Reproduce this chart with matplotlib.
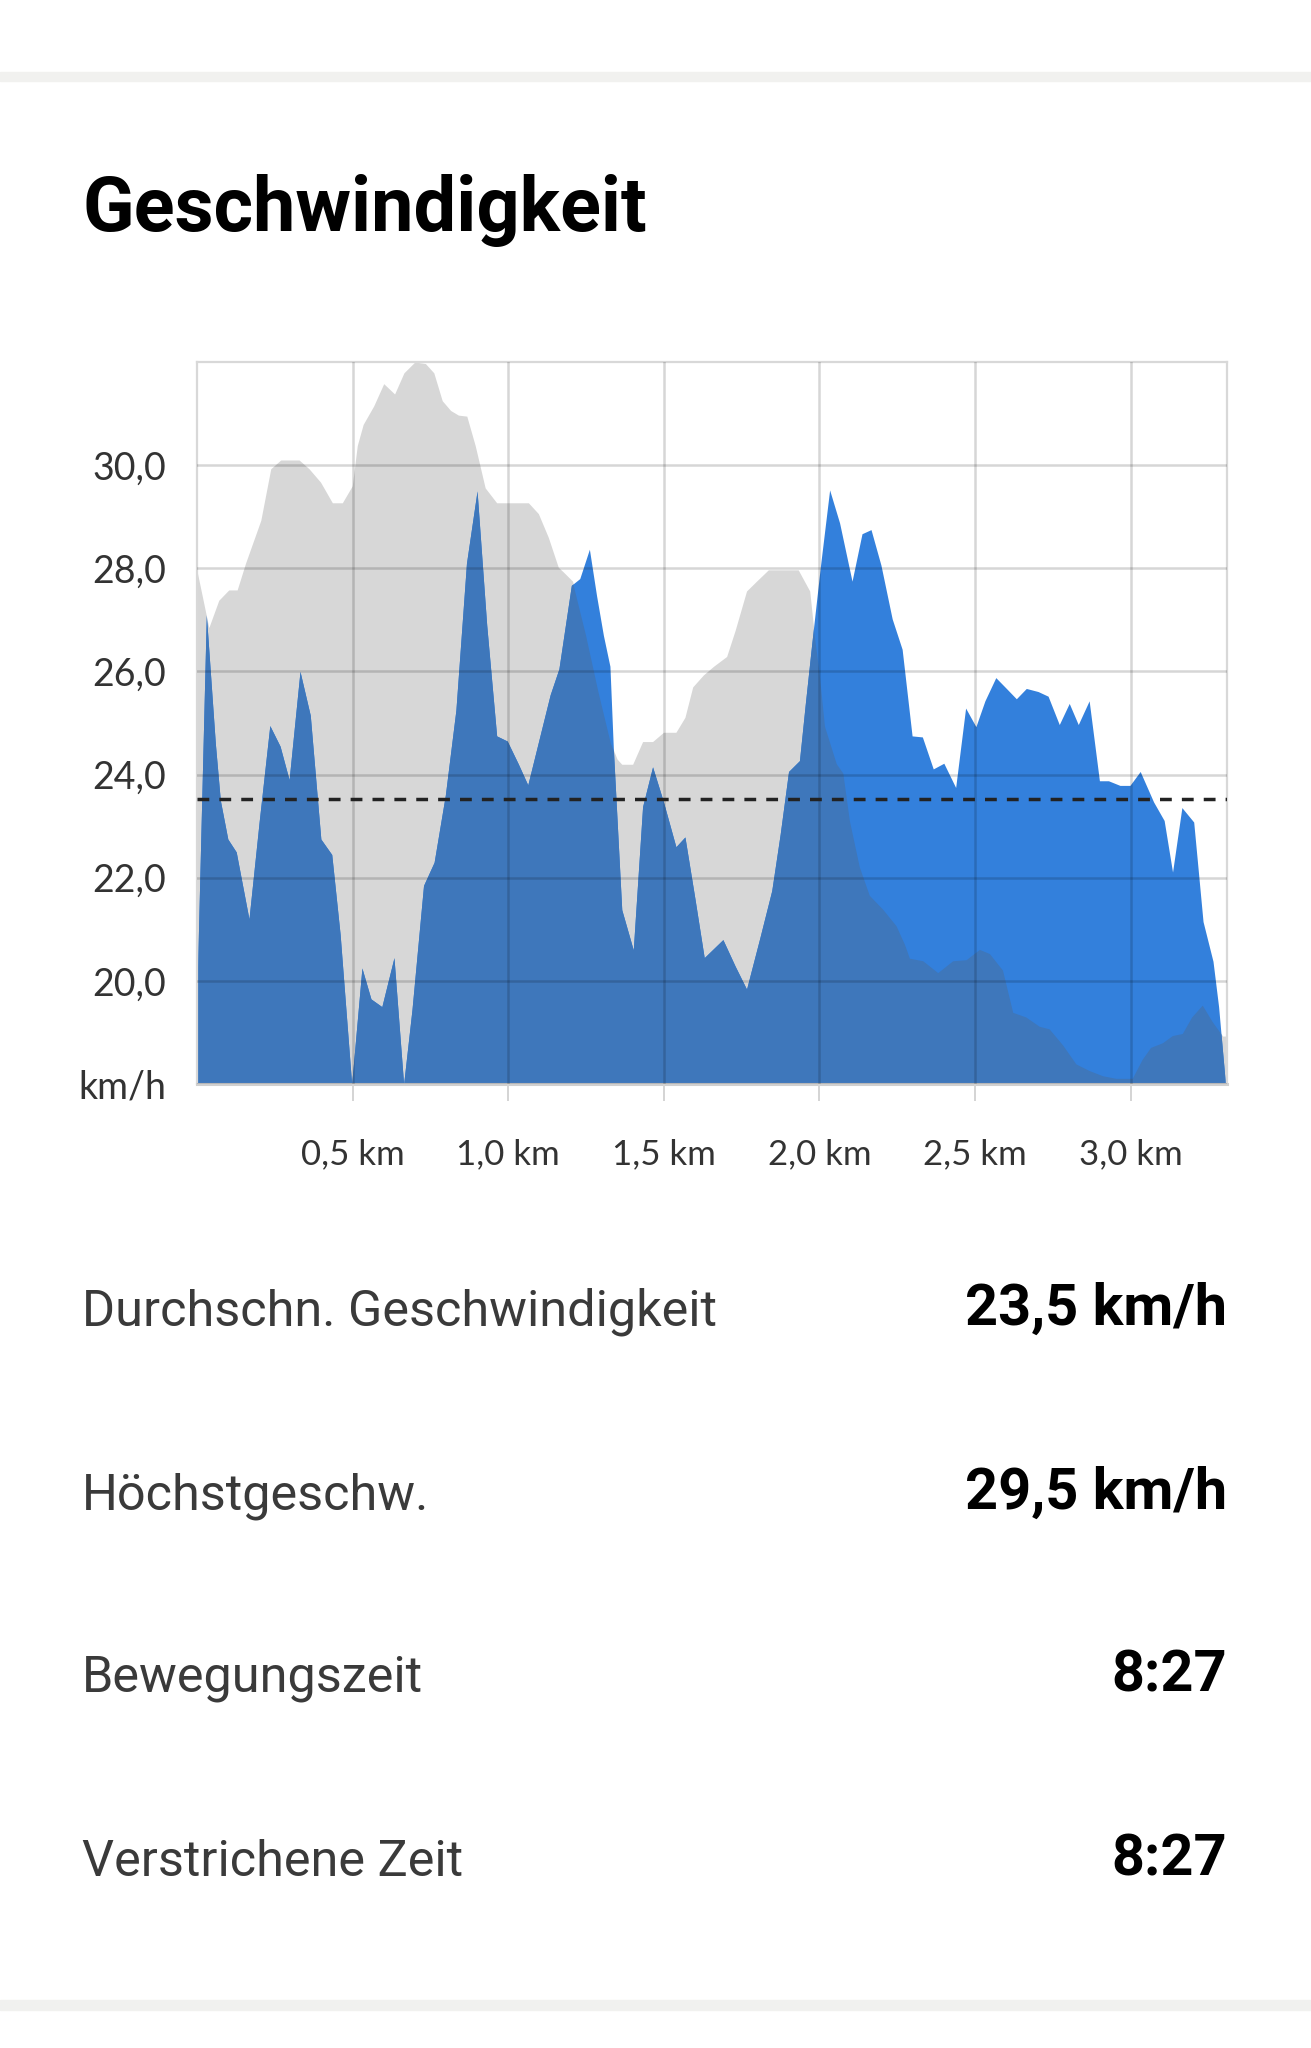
import numpy as np
import matplotlib
matplotlib.use("Agg")
import matplotlib.pyplot as plt
from matplotlib.patches import Rectangle

# --------------------------
# Data
# --------------------------
# speed profile (km, km/h)
speed_km = [0.000, 0.030, 0.059, 0.075, 0.099, 0.126, 0.167, 0.200, 0.234, 0.267,
            0.296, 0.331, 0.364, 0.398, 0.433, 0.460, 0.497, 0.530, 0.559, 0.594,
            0.633, 0.664, 0.691, 0.728, 0.762, 0.798, 0.832, 0.866, 0.900, 0.931,
            0.963, 0.997, 1.033, 1.063, 1.100, 1.135, 1.163, 1.203, 1.230, 1.261,
            1.284, 1.306, 1.327, 1.338, 1.365, 1.402, 1.432, 1.464, 1.499, 1.539,
            1.568, 1.600, 1.630, 1.690, 1.729, 1.766, 1.809, 1.847, 1.874, 1.901,
            1.936, 1.955, 1.976, 2.003, 2.033, 2.065, 2.105, 2.137, 2.166, 2.198,
            2.234, 2.266, 2.298, 2.331, 2.366, 2.400, 2.438, 2.470, 2.503, 2.532,
            2.567, 2.601, 2.633, 2.665, 2.703, 2.735, 2.771, 2.803, 2.832, 2.867,
            2.900, 2.929, 2.966, 2.998, 3.031, 3.074, 3.108, 3.135, 3.165, 3.203,
            3.233, 3.265, 3.283, 3.305]
speed = [19.8, 27.1, 24.6, 23.5, 22.75, 22.5, 21.2, 23.1, 24.95, 24.55,
         23.9, 26.0, 25.15, 22.75, 22.45, 20.9, 18.0, 20.25, 19.65, 19.5,
         20.45, 18.0, 19.45, 21.85, 22.3, 23.6, 25.25, 28.1, 29.5, 26.9,
         24.75, 24.65, 24.2, 23.8, 24.7, 25.55, 26.05, 27.67, 27.8, 28.37,
         27.47, 26.7, 26.1, 24.5, 21.38, 20.6, 23.38, 24.15, 23.47, 22.6,
         22.79, 21.6, 20.45, 20.8, 20.29, 19.84, 20.84, 21.75, 22.84, 24.06,
         24.27, 25.38, 26.56, 28.02, 29.52, 28.88, 27.75, 28.67, 28.75, 28.06,
         27.02, 26.43, 24.75, 24.73, 24.11, 24.22, 23.75, 25.29, 24.93, 25.43,
         25.88, 25.67, 25.47, 25.67, 25.61, 25.52, 24.97, 25.38, 24.97, 25.43,
         23.88, 23.88, 23.79, 23.79, 24.06, 23.47, 23.11, 22.11, 23.36, 23.08,
         21.15, 20.38, 19.5, 18.0]

# grey background profile, in the units of the speed axis
profile_km = [0.000, 0.038, 0.070, 0.102, 0.129, 0.156, 0.205, 0.237, 0.269, 0.328,
              0.360, 0.397, 0.435, 0.467, 0.499, 0.515, 0.534, 0.568, 0.600, 0.635,
              0.665, 0.700, 0.734, 0.761, 0.788, 0.815, 0.840, 0.867, 0.894, 0.926,
              0.963, 1.000, 1.065, 1.097, 1.129, 1.161, 1.177, 1.207, 1.250, 1.290,
              1.330, 1.350, 1.365, 1.400, 1.432, 1.464, 1.499, 1.539, 1.568, 1.593,
              1.627, 1.660, 1.702, 1.729, 1.766, 1.798, 1.836, 1.932, 1.969, 1.980,
              2.000, 2.018, 2.056, 2.077, 2.098, 2.130, 2.162, 2.205, 2.248, 2.275,
              2.291, 2.334, 2.382, 2.430, 2.473, 2.516, 2.548, 2.590, 2.623, 2.665,
              2.708, 2.740, 2.783, 2.826, 2.869, 2.912, 2.955, 3.007, 3.039, 3.066,
              3.104, 3.136, 3.168, 3.198, 3.232, 3.264, 3.296, 3.310]
profile = [27.95, 26.85, 27.38, 27.58, 27.58, 28.1, 28.93, 29.93, 30.1, 30.1,
           29.93, 29.67, 29.27, 29.27, 29.6, 30.38, 30.79, 31.15, 31.58, 31.38,
           31.79, 32.0, 31.97, 31.79, 31.25, 31.06, 30.97, 30.95, 30.38, 29.56,
           29.27, 29.27, 29.27, 29.06, 28.6, 28.02, 27.93, 27.75, 26.7, 25.6,
           24.6, 24.3, 24.2, 24.2, 24.64, 24.64, 24.82, 24.82, 25.11, 25.7,
           25.93, 26.1, 26.29, 26.79, 27.56, 27.75, 27.97, 27.97, 27.56, 26.93,
           26.0, 24.93, 24.2, 24.02, 23.1, 22.2, 21.65, 21.38, 21.06, 20.7,
           20.43, 20.38, 20.15, 20.38, 20.4, 20.6, 20.52, 20.2, 19.38, 19.29,
           19.11, 19.06, 18.75, 18.38, 18.25, 18.15, 18.1, 18.1, 18.47, 18.7,
           18.79, 18.93, 18.97, 19.29, 19.52, 19.2, 18.93, 18.93]

avg_line = 23.53
y_ticks = [18, 20, 22, 24, 26, 28, 30]
y_labels = ["km/h", "20,0", "22,0", "24,0", "26,0", "28,0", "30,0"]
x_ticks = [0.5, 1.0, 1.5, 2.0, 2.5, 3.0]
x_labels = ["0,5 km", "1,0 km", "1,5 km", "2,0 km", "2,5 km", "3,0 km"]

stat_names = ["Durchschn. Geschwindigkeit", "Höchstgeschw.", "Bewegungszeit", "Verstrichene Zeit"]
stat_values = ["23,5 km/h", "29,5 km/h", "8:27", "8:27"]

# --------------------------
# Figure layout (pixel based)
# --------------------------
W, H = 1311, 2048
fig = plt.figure(figsize=(W / 100, H / 100), dpi=100, facecolor="white")

def fx(px):
    return px / W

def fy(py):
    return 1 - py / H

# light grey separator bands
fig.patches.append(Rectangle((0, fy(81)), 1, 9 / H, transform=fig.transFigure,
                             color="#f1f1ef", zorder=0))
fig.patches.append(Rectangle((0, fy(2010)), 1, 10 / H, transform=fig.transFigure,
                             color="#f1f1ef", zorder=0))

fig.text(fx(82), fy(231), "Geschwindigkeit", fontsize=54.5, fontweight="bold",
         family="Roboto", color="black", va="baseline", ha="left")

ax_l, ax_r, ax_t, ax_b = 197, 1227, 362, 1084
ax = fig.add_axes([fx(ax_l), fy(ax_b), (ax_r - ax_l) / W, (ax_b - ax_t) / H])

grey = ax.fill_between(profile_km, 18, profile, color="#d7d7d7", lw=0, zorder=1)
ax.fill_between(speed_km, 18, speed, color="#3380dc", lw=0, zorder=1.2)
dark = ax.fill_between(speed_km, 18, speed, color="#3e77bb", lw=0, zorder=1.4)
dark.set_clip_path(grey.get_paths()[0], ax.transData)

# average speed
ax.axhline(avg_line, color="#222222", lw=2.5, dashes=(3.4, 2.9), zorder=3)

ax.set_xlim(0, 3.31)
ax.set_ylim(18, 32)
ax.set_yticks(y_ticks)
ax.set_yticklabels(y_labels)
ax.set_xticks(x_ticks)
ax.set_xticklabels(x_labels)
ax.grid(True, color="black", alpha=0.16, lw=1.8)
ax.set_axisbelow(False)

ax.tick_params(axis="y", length=0, pad=22, labelsize=27, labelcolor="#333333")
ax.tick_params(axis="x", length=12, width=1.4, color="#d4d4d4", pad=27,
               labelsize=25, labelcolor="#333333")
for lab in ax.get_xticklabels() + ax.get_yticklabels():
    lab.set_family("Lato")

for side in ["left", "top", "right"]:
    ax.spines[side].set_color("#d8d8d8")
    ax.spines[side].set_linewidth(1.6)
ax.spines["bottom"].set_color("#d0d0d0")
ax.spines["bottom"].set_linewidth(2.2)

# --------------------------
# Summary rows
# --------------------------
baselines = [1325, 1509, 1692, 1876]
for name, value, yb in zip(stat_names, stat_values, baselines):
    fig.text(fx(82), fy(yb), name, fontsize=36.3, family="Roboto",
             color="#3a3a3a", va="baseline", ha="left")
    fig.text(fx(1227), fy(yb), value, fontsize=41.5, fontweight="bold",
             family="Roboto", color="black", va="baseline", ha="right")

fig.savefig("out.png", dpi=100, facecolor="white")
